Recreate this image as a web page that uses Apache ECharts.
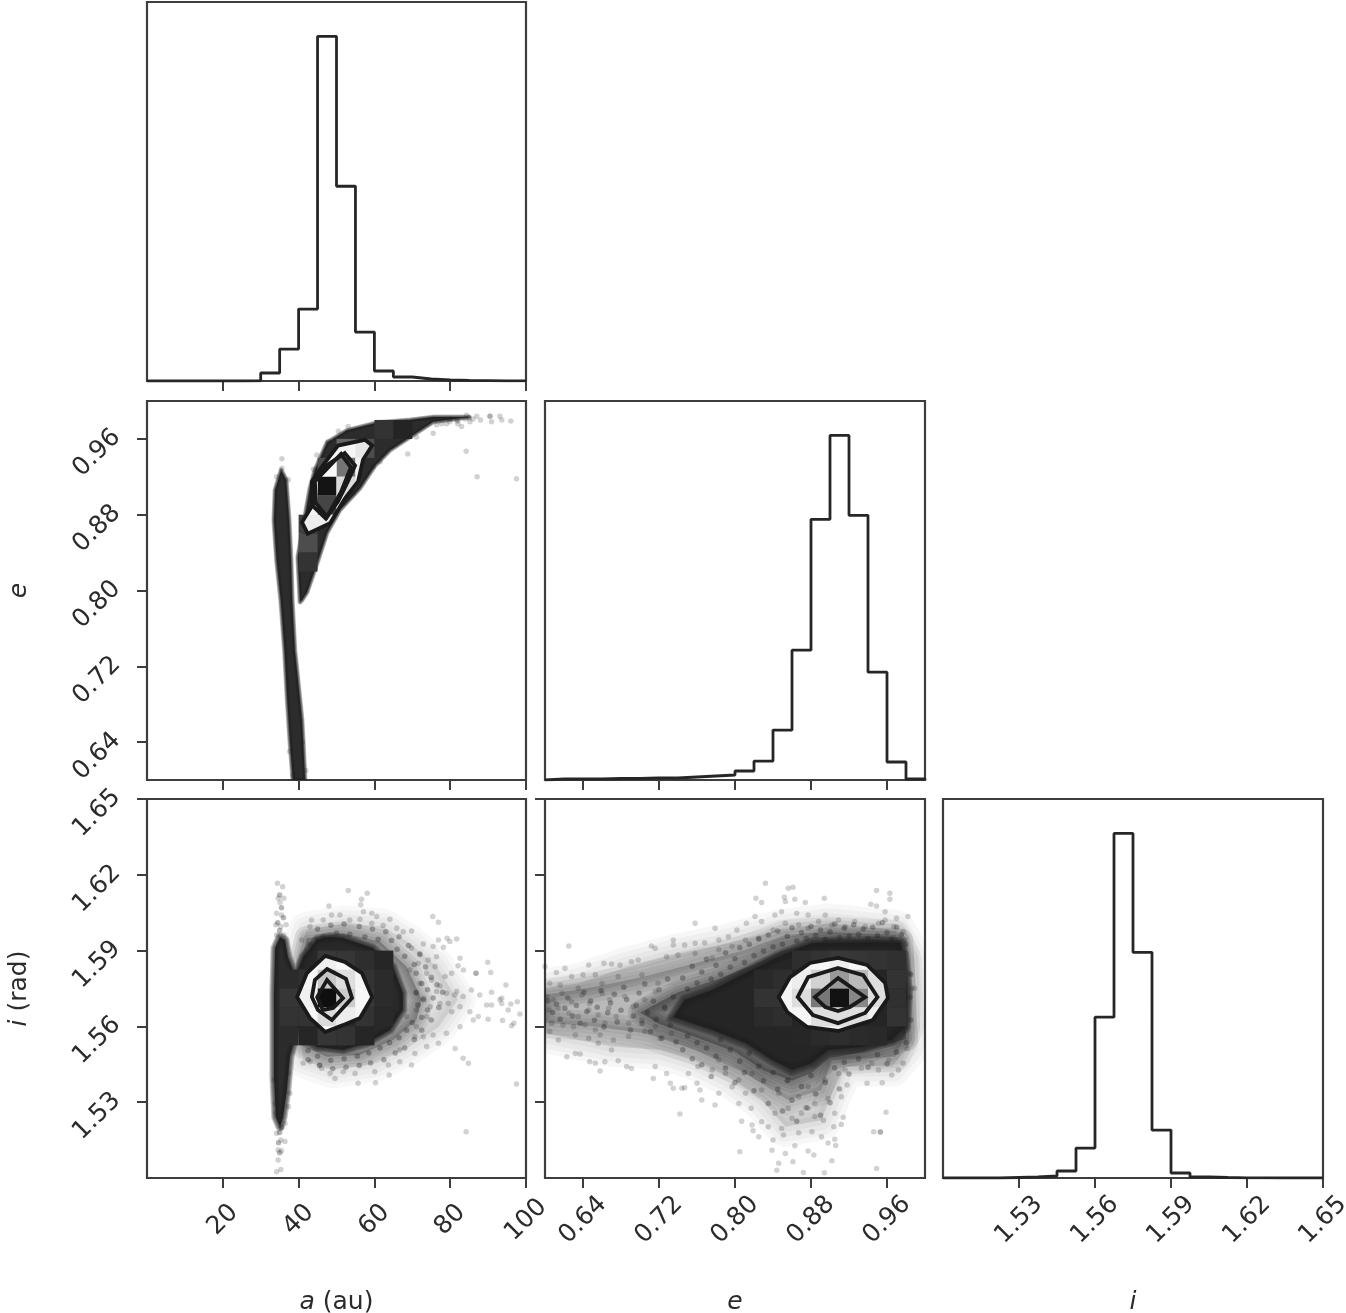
<!DOCTYPE html>
<html><head><meta charset="utf-8">
<style>html,body{margin:0;padding:0;background:#fff}#c{width:1346px;height:1313px}</style>
<script src="https://cdn.jsdelivr.net/npm/echarts@6/dist/echarts.min.js"></script>
</head><body><div id="c"></div>
<script>
const aTicks=[20,40,60,80,100];
const eTicks=[0.64,0.72,0.80,0.88,0.96];
const iTicks=[1.53,1.56,1.59,1.62,1.65];
const aHist=[0,0,0,0,0,20,800,3200,7200,34500,19500,4900,1000,400,200,100,60,40,20,10];
const eHist=[100,100,100,150,150,200,200,300,400,500,900,1900,5000,13000,26100,34500,26500,10800,1800,100];
const iHist=[0,0,0,50,100,200,700,3000,16100,34500,22600,4800,500,100,50,20,10,0,0,0];

const aeSliver=[[35.4,.927],[36.7,.917],[37.5,.874],[38,.832],[38.3,.79],[39,.737],[39.8,.706],[40.9,.663],[41.7,.6],[38.5,.6],[37.7,.642],[37,.685],[36.3,.737],[35.3,.79],[34.2,.832],[33.5,.874],[33.8,.906]];
const aeLobe=[[40.4,.788],[39.8,.835],[40.9,.861],[43,.908],[44.3,.927],[47.5,.956],[52.8,.969],[60.7,.977],[69.4,.98],[75.5,.983],[85,.983],[75.5,.978],[69.4,.962],[64.1,.948],[60.2,.932],[56.2,.908],[50.9,.885],[47.5,.861],[44.9,.829],[42.2,.798],[40.9,.79]];
const aeOuter=[[57.5,.959],[59.4,.953],[57,.938],[55.7,.915],[52.2,.897],[48.3,.871],[42.4,.86],[40.9,.872],[43.5,.889],[43.5,.915],[46.4,.932],[50.4,.953]];
const aeMiddle=[[52.2,.945],[54.9,.932],[53,.915],[50.4,.894],[47.2,.876],[43.8,.889],[43.8,.915],[47,.931]];
const aeInner=[[44.3,.915],[51.2,.944],[53.8,.93],[51.2,.904],[47.5,.878],[44.6,.892]];
const aeDarkCells=[[50,.94,.4],[55,.94,.3],[60,.96,.2],[65,.96,.14],[40,.84,.3],[40,.82,.2],[45,.92,.3],[40,.86,.25]];
const aeLightCells=[[55,.94,.9],[50,.92,.46],[45,.92,.98],[45,.90,.08],[50,.90,.86],[55,.92,.95],[45,.88,.27],[50,.88,1],[40,.90,.95],[40,.88,.96],[45,.86,.93],[40,.86,.93]];

const aiBody=[[35.1,1.5954],[36.4,1.5942],[37.2,1.5875],[39,1.5803],[40,1.583],[41.2,1.5875],[44.9,1.5945],[48.3,1.5955],[51.7,1.595],[59.6,1.591],[64.9,1.5835],[67.5,1.5732],[67.5,1.5665],[64.1,1.5586],[58,1.5534],[51.7,1.5507],[44.9,1.5518],[41.2,1.5558],[39.8,1.5598],[37.7,1.5479],[36.9,1.5348],[35.9,1.5241],[35.1,1.5202],[34,1.5241],[33.5,1.54],[33.5,1.5732],[33.8,1.591]];
const aiFuzz1=[[42.1,1.5982],[51.8,1.6008],[62.3,1.5995],[69.4,1.5929],[76.4,1.5837],[82,1.5705],[77,1.5599],[69.4,1.552],[60.6,1.5454],[49.1,1.5427],[41.2,1.5467],[40.4,1.5573],[39.5,1.5863]];
const aiFuzz2=[[42.1,1.5949],[51.8,1.5969],[61.5,1.5936],[68.5,1.5837],[72.5,1.5705],[71.1,1.5625],[65,1.5546],[56.2,1.5487],[47.4,1.548],[41.2,1.552],[40.8,1.5863]];
const aiOuter=[[47,1.5879],[52.2,1.5855],[56.7,1.5811],[59.4,1.5716],[56.2,1.5633],[51.7,1.5605],[47,1.5578],[43,1.5633],[39.6,1.5716],[42.2,1.5811]];
const aiMiddle=[[47.5,1.5827],[52.5,1.5788],[54.1,1.5712],[48.8,1.5625],[45.1,1.5665],[43.5,1.5716],[44.3,1.5784]];
const aiInner=[[47.5,1.5784],[51.7,1.5712],[49.1,1.5673],[46.4,1.5665],[44.9,1.5716]];
const aiDarkCells=[[45,1.5825,.22],[50,1.5825,.21],[55,1.5825,.18],[60,1.5825,.15],[35,1.575,.17],[40,1.575,.19],[55,1.575,.2],[60,1.575,.17],[35,1.5675,.21],[40,1.5675,.2],[55,1.5675,.22],[60,1.5675,.17],[35,1.56,.2],[40,1.56,.2],[55,1.56,.2],[60,1.56,.16],[35,1.5525,.17],[40,1.5525,.15],[45,1.5525,.21],[50,1.5525,.2],[55,1.5525,.15]];
const aiLightCells=[[45,1.575,.78],[50,1.575,.87],[40,1.575,.96],[55,1.575,.96],[45,1.5675,.06],[50,1.5675,.8],[40,1.5675,.94],[55,1.5675,.97],[45,1.56,.86],[50,1.56,.93],[45,1.5825,.94],[50,1.5825,.98],[45,1.5525,1],[50,1.5525,.97]];

const eiBody=[[.974,1.593],[.951,1.5934],[.881,1.593],[.845,1.5875],[.811,1.5811],[.776,1.5744],[.747,1.5704],[.735,1.5637],[.776,1.5586],[.811,1.5534],[.839,1.5467],[.86,1.5427],[.881,1.5455],[.898,1.5507],[.934,1.5518],[.965,1.5546],[.979,1.5598],[.981,1.5732],[.977,1.589]];
const eiFuzz1=[[.6,1.5751],[.635,1.577],[.688,1.5837],[.74,1.5889],[.793,1.5929],[.846,1.5982],[.898,1.6008],[.969,1.5982],[.983,1.5889],[.986,1.5731],[.983,1.552],[.965,1.5441],[.916,1.5441],[.902,1.5335],[.891,1.5229],[.853,1.5203],[.828,1.5309],[.793,1.5401],[.758,1.5467],[.723,1.5507],[.67,1.552],[.6,1.5573]];
const eiFuzz2=[[.6,1.5725],[.653,1.5757],[.705,1.5797],[.758,1.585],[.811,1.5903],[.853,1.5962],[.898,1.5975],[.969,1.5962],[.981,1.5863],[.983,1.5599],[.969,1.548],[.902,1.5467],[.891,1.5348],[.856,1.5309],[.811,1.5414],[.758,1.5507],[.705,1.5573],[.653,1.5599],[.6,1.5615]];
const eiFuzz3=[[.7,1.5655],[.74,1.5735],[.78,1.5785],[.82,1.5845],[.85,1.59],[.9,1.5945],[.975,1.594],[.98,1.555],[.93,1.5495],[.9,1.5475],[.88,1.5415],[.86,1.5385],[.83,1.5425],[.8,1.55],[.76,1.5555],[.72,1.561]];
const eiOuter=[[.9085,1.5871],[.939,1.5843],[.958,1.5772],[.961,1.5712],[.945,1.5625],[.9085,1.5582],[.876,1.5598],[.855,1.5657],[.846,1.5716],[.858,1.5795],[.879,1.5851]];
const eiMiddle=[[.9085,1.5831],[.935,1.5803],[.95,1.5716],[.937,1.5653],[.9085,1.5613],[.882,1.5645],[.866,1.5716],[.877,1.5795]];
const eiInner=[[.9085,1.5791],[.937,1.5716],[.921,1.5677],[.9085,1.5661],[.895,1.5677],[.884,1.5716]];
const eiDarkCells=[[.82,1.5675,.2],[.84,1.575,.18],[.84,1.5675,.2],[.84,1.56,.18],[.86,1.5825,.18],[.88,1.5825,.2],[.90,1.5825,.22],[.92,1.5825,.21],[.94,1.5825,.2],[.96,1.5825,.19],[.96,1.575,.2],[.96,1.5675,.19],[.96,1.56,.2],[.86,1.5525,.15],[.88,1.5525,.17],[.90,1.5525,.18],[.92,1.5525,.17],[.94,1.5525,.16],[.82,1.56,.17],[.82,1.575,.16]];
const eiLightCells=[[.86,1.575,.93],[.88,1.575,.82],[.90,1.575,.6],[.92,1.575,.73],[.94,1.575,.87],[.84,1.5675,.96],[.86,1.5675,.87],[.88,1.5675,.47],[.90,1.5675,.07],[.92,1.5675,.53],[.94,1.5675,.87],[.86,1.56,.96],[.88,1.56,.87],[.90,1.56,.87],[.92,1.56,.88],[.94,1.56,.94],[.90,1.5825,.93],[.92,1.5825,.97],[.88,1.5825,.97]];

const aeDots=[[90.5,.984],[90.5,.984],[93.1,.984],[87,.984],[96,.979],[84.3,.985],[84.2,.947],[87.1,.92],[97.5,.918],[68.8,.944],[35.6,.939],[93.6,.98],[90.9,.978],[83,.973],[85.2,.978],[81.7,.98],[79.9,.978],[77.7,.976],[75.5,.966],[71.1,.962],[61.5,.936],[59.7,.931],[54.4,.902],[53.1,.973],[50.5,.968],[47.8,.957],[44.8,.943],[43.9,.928],[35.6,.929],[34.2,.92],[37.3,.917],[76.4,.975],[79,.976],[38.5,.605],[41.9,.61],[37.6,.63],[41,.64],[82,.976],[86,.981],[88,.98],[82,.979],[84,.981],[80,.981],[85,.982]];
const aiDots=[[34.4,1.6167],[35.8,1.6153],[34.6,1.6107],[36.1,1.6107],[35.1,1.609],[34.2,1.6048],[35.5,1.6041],[36.7,1.6002],[34,1.6002],[35.3,1.5995],[36.1,1.5962],[34.2,1.5962],[34,1.5256],[36.4,1.5216],[34.2,1.5177],[36.4,1.5144],[35.3,1.515],[34.6,1.5111],[35.5,1.5108],[34.6,1.5071],[34.2,1.5025],[35.3,1.5034],[37.7,1.5335],[33.5,1.5388],[33.8,1.5295],[37.3,1.5282],[37.3,1.5414],
[53.1,1.6138],[58.1,1.6127],[56.6,1.6103],[56.4,1.6081],[48,1.6077],[75.4,1.6035],[76.9,1.6012],[43.4,1.6021],[48.7,1.6041],[50.9,1.6041],[57.1,1.6054],[59.3,1.6048],[64.1,1.6024],[60.6,1.6035],[46.5,1.6021],[53.5,1.6021],[56.2,1.6024],[62.3,1.5999],[65.9,1.5988],[69.8,1.5978],[67.6,1.5975],[43,1.5995],[40.8,1.5942],[59.3,1.6008],
[72.9,1.5926],[76.9,1.5942],[79.2,1.5949],[81.7,1.5946],[75.5,1.5916],[78.2,1.5913],[79.9,1.5936],[69.8,1.591],[72,1.5889],[74.2,1.5863],[76.4,1.5876],[82.6,1.587],[78.6,1.5797],[80.4,1.581],[82.1,1.584],[83.5,1.5823],[86.8,1.581],[86.8,1.581],[89.9,1.5854],[90.7,1.5813],[94.7,1.5764],[77.3,1.576],[81.7,1.5738],[85.6,1.5744],[87.8,1.5724],[90.9,1.5735],[93.6,1.5711],[93.1,1.5705],[83.4,1.5718],[79.5,1.5691],[82.6,1.5678],[89.6,1.5685],[90.9,1.5685],[93.6,1.5691],[96,1.5689],[97.7,1.5698],[98.4,1.5649],[95.3,1.5665],[87.4,1.5639],[86.1,1.5625],[90,1.5628],[93.8,1.5623],[96.8,1.5612],[96.2,1.5603],[80.4,1.5658],[85.2,1.5658],[82.6,1.5599],[79,1.5573],[75.5,1.5566],[71.1,1.5599],[72.9,1.5559],[83.4,1.5474],[84.8,1.5454],[81.3,1.5513],[76.9,1.5533],[73.8,1.552],[70.7,1.5559],[97.5,1.5372],[84.2,1.5183],
[71.1,1.5731],[72.9,1.5711],[74.7,1.5678],[72,1.5771],[75.1,1.5784],[77.3,1.5691],[73.8,1.581],[76.4,1.5738],[71.1,1.5665],[69.4,1.5823],[68.5,1.5639],[73.8,1.5639],[71.6,1.585],[76,1.5837],[79,1.5731],[81.2,1.5724],
[55.7,1.5375],[60.3,1.5377],[63.9,1.5408],[49.6,1.5394],[41.2,1.5454],[43,1.546],[46.1,1.5434],[48.3,1.5414],[51.8,1.5421],[54.9,1.5414],[60.1,1.5421],[63.7,1.5447],[66.7,1.546],[69.8,1.5447],[70.7,1.5493],[66.7,1.5507],[45.6,1.5447]];
const aiDenseDots=[[66,1.5905],[68,1.5878],[69,1.592],[70.5,1.5845],[72,1.5885],[71,1.581],[73.5,1.5835],[72.5,1.577],[75,1.5795],[74,1.5745],[76.5,1.5765],[71,1.5735],[73,1.5705],[75.5,1.5712],[78,1.5735],[77,1.5675],[74,1.5665],[71.5,1.5685],[72.5,1.5635],[75,1.5625],[70,1.5615],[72.5,1.5585],[68.5,1.5585],[70.5,1.5548],[66.5,1.5555],[68,1.5515],[64,1.5535],[65.5,1.5495],[61.5,1.5515],[62.5,1.5468],[58.5,1.5495],[59,1.5455],[55.5,1.5482],[56,1.5445],[52,1.5472],[52.5,1.5438],[48.5,1.5465],[49,1.5432],[45,1.5482],[45.5,1.5445],[42.5,1.5505],[42.5,1.5468],[43,1.5925],[45,1.5985],[46.5,1.5955],[48.5,1.6],[50,1.597],[52,1.6005],[53.5,1.5965],[56,1.5995],[57.5,1.5955],[59.5,1.5985],[61,1.5945],[63,1.5975],[64.5,1.594],[66.5,1.5955],[35,1.598],[36,1.603],[34.5,1.601],[35.5,1.607],[35,1.612],[35,1.518],[34.7,1.514],[35.5,1.52],[35,1.51]];
const eiDots=[[.832,1.6167],[.856,1.6147],[.861,1.6151],[.949,1.6138],[.963,1.6127],[.963,1.6103],[.894,1.6107],[.822,1.6107],[.828,1.609],[.852,1.6111],[.853,1.6094],[.874,1.609],[.863,1.6103],[.943,1.6083],[.949,1.6077],[.958,1.6054],[.97,1.6028],[.982,1.6035],[.821,1.6035],[.842,1.6041],[.849,1.6054],[.865,1.6048],[.877,1.6041],[.895,1.6041],[.909,1.6021],[.926,1.6015],[.812,1.6008],[.828,1.6015],[.758,1.6008],[.779,1.5988],[.802,1.5982],[.793,1.5955],[.735,1.5942],[.735,1.5922],[.712,1.5918],[.625,1.5918],[.747,1.5922],[.758,1.5929],[.768,1.5931],[.783,1.5942],
[.811,1.5942],[.825,1.5949],[.84,1.5982],[.853,1.6008],[.867,1.6002],[.877,1.5988],[.888,1.6015],[.902,1.6002],[.916,1.5995],[.937,1.5995],[.951,1.6008],[.958,1.6021],[.967,1.5995],[.977,1.5975],[.979,1.5942],[.986,1.5751],[.989,1.5751],[.984,1.581],
[.6,1.5837],[.612,1.5813],[.621,1.583],[.646,1.5843],[.662,1.585],[.67,1.5847],[.691,1.5856],[.679,1.5843],[.698,1.5863],[.716,1.5909],[.728,1.5876],[.74,1.5883],[.758,1.5889],[.776,1.587],[.783,1.5903],[.797,1.5916],[.628,1.5797],[.64,1.5804],[.653,1.5804],[.605,1.5771],[.616,1.5764],[.635,1.5751],[.66,1.577],[.677,1.5797],[.702,1.5804],[.719,1.5771],
[.602,1.5718],[.609,1.5705],[.618,1.5731],[.628,1.5698],[.639,1.5724],[.647,1.5691],[.66,1.5731],[.668,1.5705],[.604,1.5665],[.614,1.5672],[.625,1.5652],[.635,1.5639],[.646,1.5665],[.656,1.5645],[.667,1.5672],[.675,1.5639],[.607,1.5612],[.619,1.5606],[.63,1.5599],[.642,1.5606],[.653,1.5586],[.663,1.5612],[.684,1.5718],[.693,1.5678],[.705,1.5705],[.716,1.5738],[.726,1.5678],[.688,1.5612],[.702,1.5625],[.716,1.5599],[.73,1.5625],
[.605,1.558],[.614,1.5546],[.632,1.5566],[.646,1.5553],[.658,1.5566],[.672,1.5546],[.688,1.556],[.705,1.558],[.721,1.5553],[.733,1.5573],[.623,1.548],[.632,1.5493],[.637,1.5491],[.647,1.546],[.653,1.5454],[.658,1.5423],[.663,1.546],[.677,1.5464],[.686,1.5441],[.691,1.5433],[.67,1.5507],[.656,1.5533],[.716,1.5441],[.714,1.5394],[.728,1.5414],[.732,1.5375],[.735,1.5355],[.744,1.5355],[.747,1.5357],[.76,1.5375],[.763,1.5348],[.765,1.5309],[.779,1.5289],[.742,1.5253],[.751,1.5414],[.761,1.5441],[.776,1.5428],[.79,1.5414],[.783,1.5467],
[.805,1.5104],[.844,1.5031],[.872,1.5022],[.894,1.5021],[.902,1.5068],[.898,1.5139],[.906,1.5129],[.905,1.5153],[.883,1.5091],[.877,1.5107],[.863,1.5128],[.861,1.5064],[.853,1.5097],[.846,1.5058],[.839,1.511],[.825,1.5163],[.819,1.5187],[.818,1.521],[.807,1.5225],[.804,1.5295],[.817,1.5276],[.828,1.5223],[.835,1.5203],[.84,1.515],[.849,1.5196],[.851,1.517],[.867,1.5179],[.881,1.5183],[.891,1.5163],[.904,1.5203],[.912,1.5212],[.914,1.524],[.905,1.5256],[.893,1.5229],[.884,1.5243],[.87,1.5256],[.856,1.5276],[.842,1.5256],[.86,1.5236],[.877,1.5276],[.867,1.5322],[.884,1.5295],[.898,1.5315],[.912,1.5322],[.846,1.5335],[.828,1.5348],[.811,1.5335],[.797,1.5361],[.783,1.5335],[.856,1.5388],[.877,1.5361],[.895,1.5388],[.909,1.5414],[.918,1.5368],[.916,1.5427],[.818,1.5414],[.804,1.5388],
[.953,1.5182],[.953,1.5182],[.946,1.5183],[.959,1.526],[.949,1.5038],[.939,1.5375],[.955,1.5377],[.965,1.5408],[.951,1.5427],[.972,1.5427],[.977,1.5454],[.962,1.5467],[.944,1.5454],[.933,1.5434],[.981,1.5513]];
const eiDenseDots=[[.603,1.5702],[.608,1.5655],[.612,1.5688],[.616,1.5628],[.621,1.5672],[.624,1.5712],[.629,1.5641],[.633,1.5683],[.637,1.5612],[.641,1.5735],[.644,1.5659],[.648,1.5701],[.652,1.5624],[.655,1.5676],[.659,1.5742],[.662,1.5598],[.666,1.5654],[.669,1.5693],[.673,1.5727],[.676,1.5617],[.68,1.5664],[.683,1.5755],[.686,1.5706],[.69,1.5586],[.693,1.5641],[.696,1.5684],[.699,1.5732],[.702,1.5612],[.705,1.5768],[.708,1.5655],[.711,1.5579],[.714,1.5701],[.717,1.5627],[.72,1.5745],[.723,1.5553],[.726,1.5672],[.729,1.5788],[.732,1.5605],[.735,1.5716],[.738,1.5538],[.741,1.5648],
[.745,1.5792],[.75,1.5748],[.755,1.5838],[.76,1.5772],[.765,1.5815],[.77,1.5866],[.775,1.5788],[.78,1.5842],[.785,1.5806],[.79,1.5891],[.795,1.5834],[.8,1.5868],[.805,1.5912],[.81,1.5853],[.815,1.5925],[.82,1.5881],[.825,1.5946],[.83,1.5898],[.835,1.5962],[.84,1.5915],[.845,1.5978],[.85,1.5925],[.855,1.5957],[.86,1.599],[.865,1.5938],[.87,1.5972],[.875,1.5948],[.88,1.5995],[.885,1.5961],[.89,1.5982],[.895,1.5945],[.9,1.5975],[.905,1.6005],[.91,1.5952],[.915,1.5988],[.92,1.5958],[.925,1.6002],[.93,1.5965],[.935,1.5985],[.94,1.5948],[.945,1.5992],[.95,1.596],[.955,1.601],[.96,1.5972],[.965,1.5945],[.97,1.5992],[.975,1.5962],[.98,1.5925],
[.745,1.5508],[.75,1.5562],[.755,1.5472],[.76,1.5535],[.765,1.5448],[.77,1.5515],[.775,1.5402],[.78,1.5482],[.785,1.5548],[.79,1.5435],[.795,1.5508],[.8,1.5378],[.805,1.5462],[.81,1.5418],[.815,1.5495],[.82,1.5345],[.825,1.5442],[.83,1.5385],[.835,1.5295],[.84,1.5418],[.845,1.5352],[.85,1.5265],[.855,1.5385],[.86,1.5308],[.865,1.5225],[.87,1.5362],[.875,1.5278],[.88,1.5405],[.885,1.5332],[.89,1.5248],[.895,1.5378],[.9,1.5298],[.905,1.5435],[.91,1.5352],[.915,1.5458],[.92,1.5412],[.93,1.5472],[.94,1.5438],[.95,1.5488],[.96,1.5452],[.97,1.5498],[.98,1.5535],[.985,1.5625],[.984,1.5715],[.985,1.5805]];

const FONT='DejaVu Sans',INK='#2b2b2b',FRAME='#3d3d3d',DENSE='#212121';
const AX={a:{min:0,max:100,ticks:aTicks,bin:5,hist:aHist,dec:0},e:{min:.6,max:1,ticks:eTicks,bin:.02,hist:eHist,dec:2},i:{min:1.5,max:1.65,ticks:iTicks,bin:.0075,hist:iHist,dec:2}};
const X=[147,545,943],W=[379,380,380],Y=[2,401,799],S=379,PEAK=37950;
const grids=[],xAxes=[],yAxes=[],series=[];

function nameStyle(){return {fontFamily:FONT,fontSize:25,color:INK,rich:{it:{fontFamily:FONT,fontSize:25,fontStyle:'italic',color:INK}}};}
function valueAxis(dim,g,isX,showLabel,name){
  const d=AX[dim];
  const o={type:'value',gridIndex:g,min:d.min,max:d.max,splitLine:{show:false},axisLine:{show:false},
    axisTick:{show:true,length:10,customValues:d.ticks,lineStyle:{color:FRAME,width:2}},
    axisLabel:{show:showLabel,customValues:d.ticks,rotate:45,align:'center',verticalAlign:'middle',fontFamily:FONT,fontSize:25,color:INK,
      margin:isX?42:36,padding:isX?0:[40,40,0,0],showMinLabel:true,showMaxLabel:true,formatter:v=>(+v).toFixed(d.dec)}};
  if(name){Object.assign(o,{name:name,nameLocation:'middle',nameGap:isX?112:115,nameRotate:isX?0:90,nameMoveOverlap:false,nameTextStyle:nameStyle()});}
  return o;
}
function addGrid(col,row){
  grids.push({left:X[col],top:Y[row],width:W[col],height:S,show:true,borderColor:FRAME,borderWidth:2.2,backgroundColor:'#fff',containLabel:false,outerBoundsMode:'none'});
  return grids.length-1;
}
function polygon(g,pts,style,z){
  series.push({type:'custom',xAxisIndex:g,yAxisIndex:g,coordinateSystem:'cartesian2d',clip:true,z:z,silent:true,data:[pts[0]],
    encode:{x:0,y:1},
    renderItem:(p,api)=>({type:'polygon',shape:{points:pts.map(q=>api.coord(q))},style:style})});
}
function soft(g,pts,alpha,width,z){
  polygon(g,pts,{fill:DENSE,opacity:alpha},z);
  [1,.75,.5,.25].forEach(k=>polygon(g,pts,{fill:'none',stroke:DENSE,lineWidth:width*k,lineJoin:'round',opacity:alpha*.3},z));
}
function shade(v){const c=Math.round(255*v);return `rgb(${c},${c},${c})`;}
function cellRect(api,c,xb,yb){
  const p0=api.coord([c[0],c[1]+yb]),p1=api.coord([c[0]+xb,c[1]]);
  return {type:'rect',shape:{x:p0[0],y:p0[1],width:p1[0]-p0[0],height:p1[1]-p0[1]},style:{fill:shade(c[2])}};
}
function cells(g,list,xb,yb,clipPts,z){
  series.push({type:'custom',xAxisIndex:g,yAxisIndex:g,coordinateSystem:'cartesian2d',clip:true,z:z,silent:true,data:[list[0]],encode:{x:0,y:1},
    renderItem:(p,api)=>{
      const grp={type:'group',children:list.map(c=>cellRect(api,c,xb,yb))};
      if(clipPts)grp.clipPath={type:'polygon',shape:{points:clipPts.map(q=>api.coord(q))}};
      return grp;}});
}
function dots(g,list,z,op){
  series.push({type:'scatter',xAxisIndex:g,yAxisIndex:g,data:list,symbolSize:5.5,z:z,silent:true,itemStyle:{color:'#1c1c1c',opacity:op}});
}
function histogram(col,row,dim,name,labels){
  const d=AX[dim],g=addGrid(col,row);
  xAxes.push(valueAxis(dim,g,true,!!labels,name));
  yAxes.push({type:'value',gridIndex:g,min:0,max:PEAK,show:false,splitLine:{show:false}});
  const line=[[d.min,0]];
  d.hist.forEach((v,k)=>{const a=d.min+k*d.bin;line.push([a,v],[a+d.bin,v]);});
  line.push([d.max,0]);
  series.push({type:'line',xAxisIndex:g,yAxisIndex:g,data:line,symbol:'none',silent:true,z:5,lineStyle:{color:'#262626',width:2.8}});
}
function panel(col,row,xd,yd,xl,yl,xn,yn,P){
  const g=addGrid(col,row);
  xAxes.push(valueAxis(xd,g,true,xl,xn));
  yAxes.push(valueAxis(yd,g,false,yl,yn));
  const xb=AX[xd].bin,yb=AX[yd].bin;
  (P.fuzz||[]).forEach(f=>soft(g,f[0],f[1],f[2],2));
  dots(g,P.dots,3,.2);
  if(P.dense)dots(g,P.dense,3,.32);
  P.bodies.forEach(b=>soft(g,b,.95,P.edge,4));
  cells(g,P.dark,xb,yb,null,5);
  polygon(g,P.outer,{fill:'#f6f6f6'},6);
  cells(g,P.light,xb,yb,P.outer,7);
  [P.outer,P.middle,P.inner].forEach(c=>polygon(g,c,{fill:'none',stroke:'#1a1a1a',lineWidth:3.8,lineJoin:'miter'},8));
}

histogram(0,0,'a');
panel(0,1,'a','e',false,true,null,'{it|e}',{dots:aeDots,bodies:[aeSliver,aeLobe],edge:5,dark:aeDarkCells,light:aeLightCells,outer:aeOuter,middle:aeMiddle,inner:aeInner});
panel(0,2,'a','i',true,true,'{it|a} (au)','{it|i} (rad)',{fuzz:[[aiFuzz1,.1,36],[aiFuzz2,.3,24]],dots:aiDots,dense:aiDenseDots,bodies:[aiBody],edge:9,dark:aiDarkCells,light:aiLightCells,outer:aiOuter,middle:aiMiddle,inner:aiInner});
histogram(1,1,'e');
panel(1,2,'e','i',true,false,'{it|e}',null,{fuzz:[[eiFuzz1,.12,40],[eiFuzz2,.22,30],[eiFuzz3,.4,24]],dots:eiDots,dense:eiDenseDots,bodies:[eiBody],edge:12,dark:eiDarkCells,light:eiLightCells,outer:eiOuter,middle:eiMiddle,inner:eiInner});
histogram(2,2,'i','{it|i}',true);

const chart=echarts.init(document.getElementById('c'),null,{renderer:'canvas',width:1346,height:1313});
chart.setOption({animation:false,backgroundColor:'#fff',grid:grids,xAxis:xAxes,yAxis:yAxes,series:series});
</script></body></html>
